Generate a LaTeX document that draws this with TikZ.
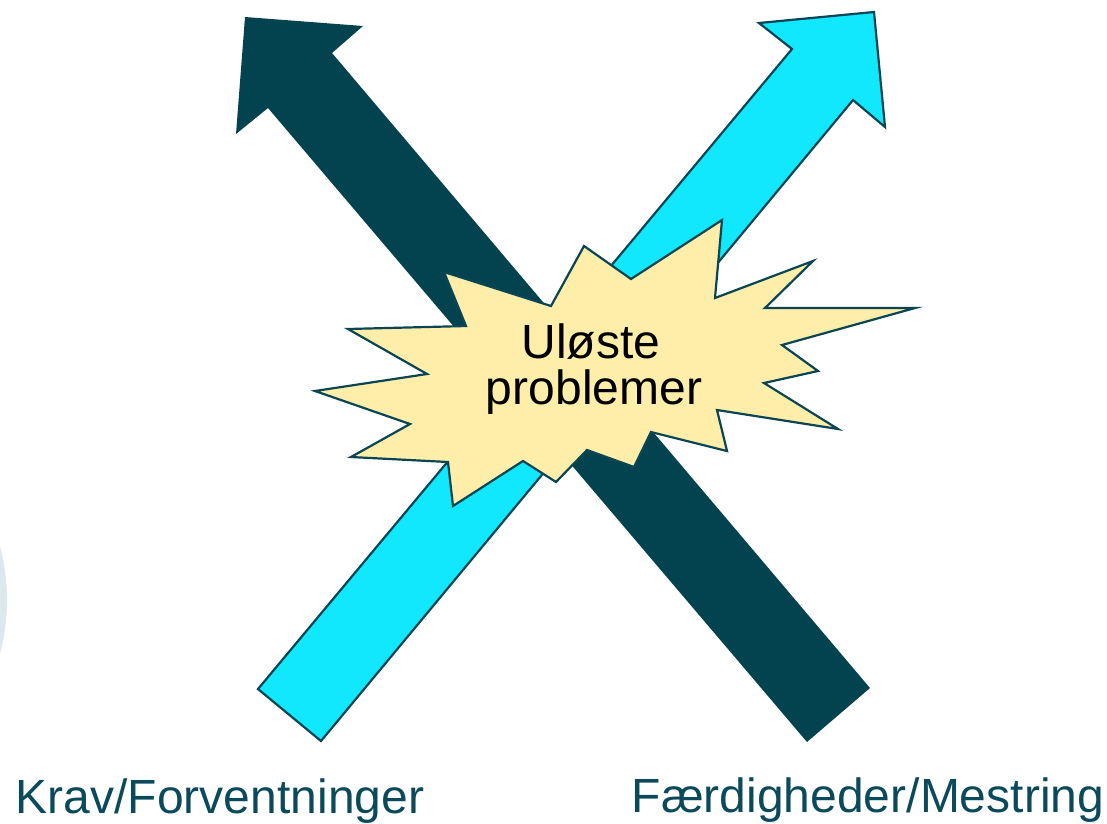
\documentclass[tikz,border=0pt]{standalone}
\usepackage{fontspec}
\setmainfont{Liberation Sans}
\definecolor{darkteal}{HTML}{03424F}
\definecolor{cyanarrow}{HTML}{11E8FE}
\definecolor{burstfill}{HTML}{FFEEAA}
\definecolor{edgeteal}{HTML}{0A4553}
\definecolor{labelteal}{HTML}{0B4A5A}
\definecolor{ghost}{HTML}{DDE8EE}
\begin{document}
\begin{tikzpicture}[x=1pt,y=-1pt,
  arrowshape/.style={line width=2.2pt,line join=miter},
  burst/.style={line width=2.2pt,fill=burstfill,draw=edgeteal,line join=miter},
  centertext/.style={anchor=base,inner sep=0pt,font=\fontsize{48}{48}\selectfont},
  label/.style={font=\fontsize{48}{48}\selectfont,text=labelteal,inner sep=0pt}]
\useasboundingbox (0,0) rectangle (1107,823);
% faint circle at left edge
\fill[ghost] (-197,600) circle (204);
% cyan arrow (bottom-left to top-right)
\filldraw[arrowshape,fill=cyanarrow,draw=edgeteal]
  (258,689) -- (792,49) -- (759,23) -- (874,12) -- (885,127) -- (853,100) -- (321,741) -- cycle;
% dark arrow (bottom-right to top-left)
\fill[darkteal]
  (870,688) -- (332,53) -- (363,26) -- (245,17) -- (236,134) -- (268,108) -- (807,742) -- cycle;
% starburst
\filldraw[burst]
  (444,272) -- (466,326) -- (348,329) -- (427,374) -- (315,391) -- (410,424) --
  (351,457) -- (448,462) -- (453,506) -- (523,461) -- (556,482) -- (587,450) --
  (634,467) -- (651,432) -- (727,451) -- (717,410) -- (838,429) -- (764,383) --
  (818,371) -- (782,345) -- (915,308) -- (765,308) -- (813,261) -- (715,298) --
  (722,220) -- (631,279) -- (584,246) -- (551,306) -- cycle;
\node[centertext] (t1) at (591,358) {Uløste};
\node[centertext] (t2) at (594,404) {problemer};
\node[label,anchor=base] (krav) at (220,813) {Krav/Forventninger};
\node[label,anchor=base] (faerd) at (868,812) {Færdigheder/Mestring};
\end{tikzpicture}
\end{document}
